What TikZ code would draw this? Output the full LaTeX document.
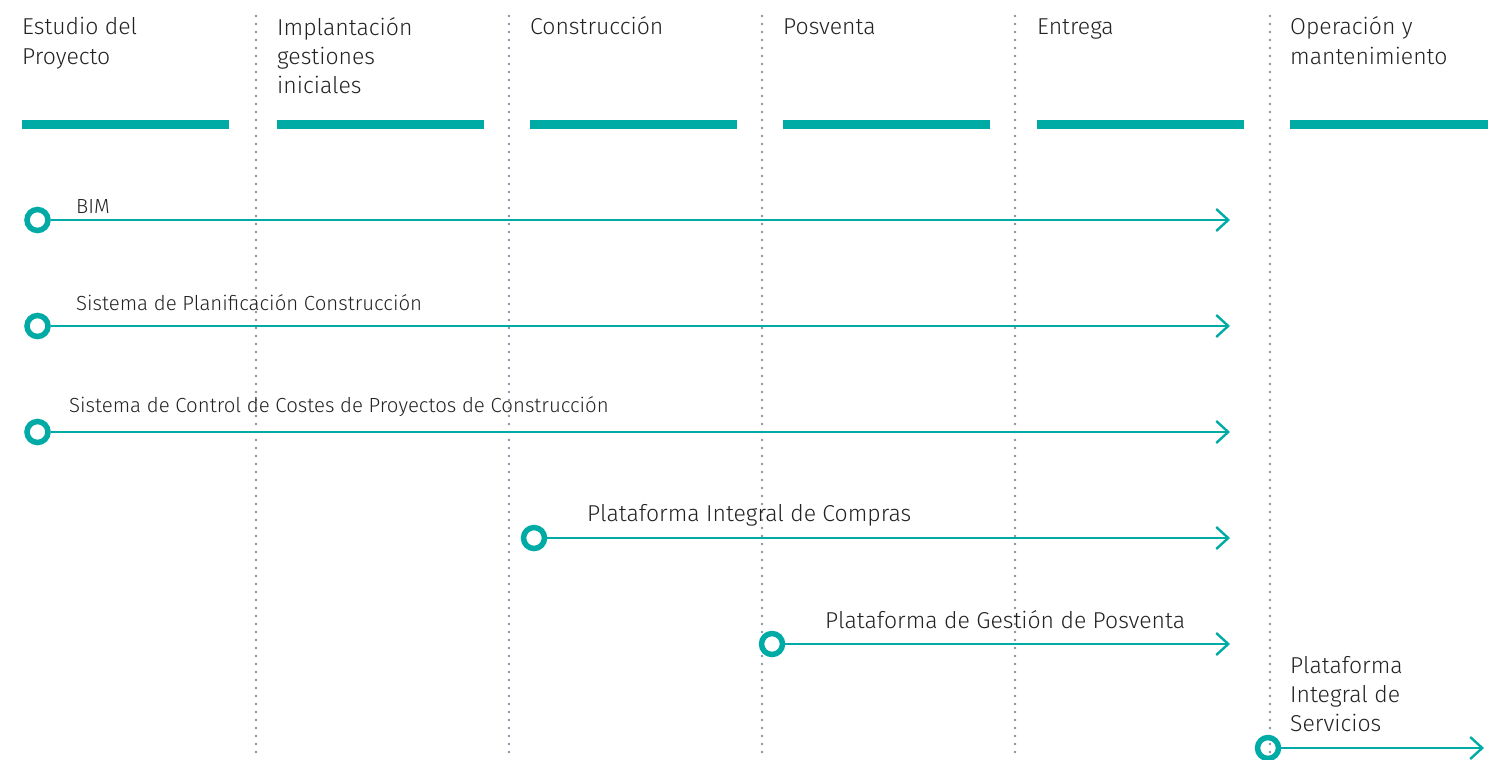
\documentclass[tikz,border=0pt]{standalone}
\usepackage{fontspec}
\setmainfont{Fira Sans Light}
\usetikzlibrary{arrows.meta}
\definecolor{teal1}{HTML}{00ABA6}
\definecolor{dotc}{HTML}{8494A3}
\definecolor{txt}{HTML}{222222}
\begin{document}
\begin{tikzpicture}[x=1pt,y=-1pt,
  head/.style={anchor=base west,inner sep=0pt,align=left,text=txt,font=\fontsize{23}{29}\selectfont},
  lab/.style={anchor=base west,inner sep=0pt,text=txt,font=\fontsize{20.4}{24}\selectfont},
  labbig/.style={anchor=base west,inner sep=0pt,align=left,text=txt,font=\fontsize{23}{29}\selectfont},
  bar/.style={fill=teal1,draw=none},
  sep/.style={draw=dotc,line width=2.8pt,line cap=round,dash pattern=on 0pt off 8pt},
  ring/.style={circle,draw=teal1,fill=none,line width=5.5pt,minimum size=21pt,inner sep=0pt},
  flow/.style={draw=teal1,line width=2.4pt,-{Straight Barb[length=12pt,width=22pt,line width=2.4pt]}}]
\useasboundingbox (0,0) rectangle (1488,760);
% separators
\foreach \x/\n in {256/s1,509/s2,762/s3,1015/s4,1270/s5}{
  \coordinate (\n t) at (\x,16);
  \coordinate (\n b) at (\x,754);
  \draw[sep] (\n t) -- (\n b);
}
% bars
\foreach \a/\b in {22/229,277/484,530/737,783/990,1037/1244,1290/1488}{
  \fill[bar] (\a,120) rectangle (\b,129);
}
% headers (base anchor = baseline of last line)
\node[head] (h1) at (22,64) {Estudio del\\Proyecto};
\node[head] (h2) at (277,93) {Implantación\\gestiones\\iniciales};
\node[head] (h3) at (530,35) {Construcción};
\node[head] (h4) at (783,35) {Posventa};
\node[head] (h5) at (1037,35) {Entrega};
\node[head] (h6) at (1290,64) {Operación y\\mantenimiento};
% flows
\coordinate (e1) at (1230,220);
\coordinate (e2) at (1230,326);
\coordinate (e3) at (1230,432);
\coordinate (e4) at (1230,538);
\coordinate (e5) at (1230,644);
\coordinate (e6) at (1484,748);
\node[ring] (c1) at (37.5,220) {};
\node[ring] (c2) at (37.5,326) {};
\node[ring] (c3) at (37.5,432) {};
\node[ring] (c4) at (534,538) {};
\node[ring] (c5) at (772,644) {};
\node[ring] (c6) at (1268,748) {};
\foreach \i in {1,...,6}{ \draw[flow] (c\i.east) -- (e\i); }
% labels
\node[lab] (l1) at (76,213) {BIM};
\node[lab] (l2) at (76,310) {Sistema de Planificación Construcción};
\node[lab] (l3) at (69,412) {Sistema de Control de Costes de Proyectos de Construcción};
\node[labbig] (l4) at (587,521) {Plataforma Integral de Compras};
\node[labbig] (l5) at (825,628) {Plataforma de Gestión de Posventa};
\node[labbig] (l6) at (1290,731) {Plataforma\\Integral de\\Servicios};
\end{tikzpicture}
\end{document}
